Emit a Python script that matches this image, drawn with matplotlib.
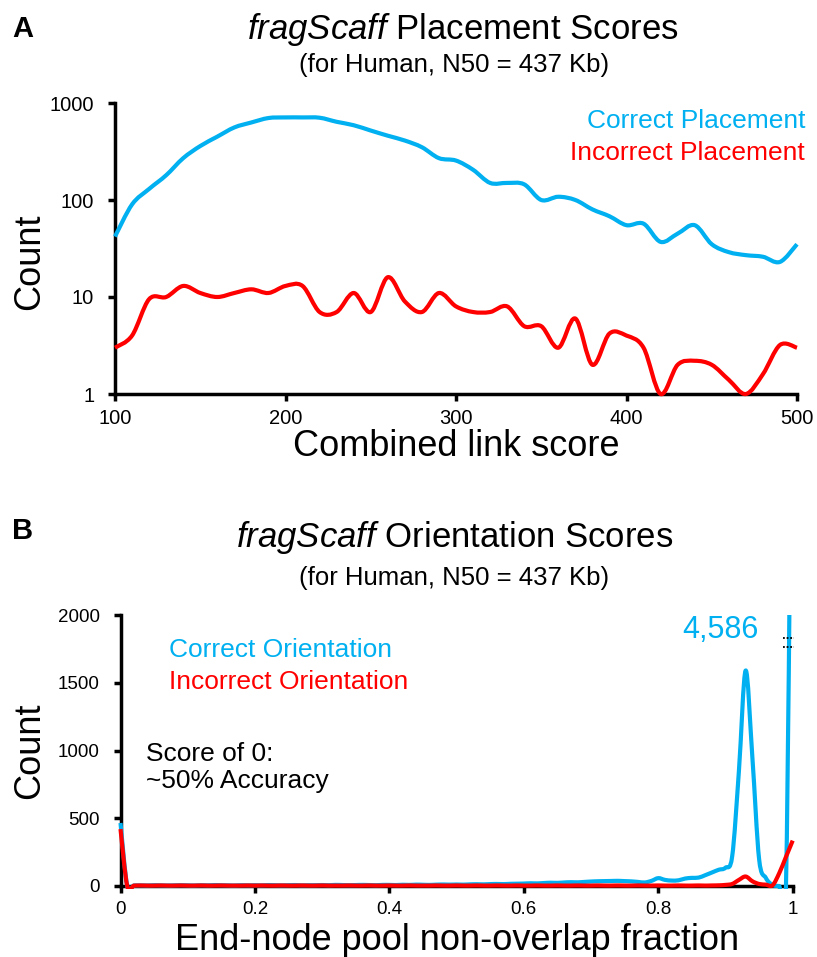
import numpy as np
import matplotlib
matplotlib.use('Agg')
import matplotlib.pyplot as plt
from matplotlib.patches import PathPatch, Rectangle
from matplotlib.path import Path

plt.rcParams['font.family'] = ['Liberation Sans', 'DejaVu Sans']
plt.rcParams['mathtext.fontset'] = 'custom'
plt.rcParams['mathtext.it'] = 'Liberation Sans:italic'
plt.rcParams['mathtext.rm'] = 'Liberation Sans'

BLUE = '#00B0F0'
RED = '#FF0000'

# Panel A: counts per combined link score bin (log scale)
score_a = [100, 110, 120, 130, 140, 150, 160, 170, 180, 190, 200,
           210, 220, 230, 240, 250, 260, 270, 280, 290, 300,
           310, 320, 330, 340, 350, 360, 370, 380, 390, 400,
           410, 420, 430, 440, 450, 460, 470, 480, 490, 500]
correct_a = [42, 90, 130, 180, 270, 360, 450, 560, 630, 700, 710,
             710, 705, 640, 590, 520, 460, 410, 350, 270, 255,
             205, 150, 150, 145, 100, 108, 100, 80, 68, 55,
             57, 37, 45, 55, 35, 29, 27, 26, 23, 35]
incorrect_a = [3.0, 4.0, 9.5, 10, 13, 11, 10, 11, 12, 11, 13,
               13, 7, 7, 11, 7, 16, 9, 7, 11, 8,
               7, 7, 8, 5, 5, 3, 6, 2, 4.2, 4,
               3, 1, 2, 2.2, 2, 1.4, 1.0, 1.6, 3.2, 3.0]

# Panel B: counts per end-node pool non-overlap fraction bin (0.00 .. 1.00)
frac_b = np.round(np.arange(101) * 0.01, 2)
correct_b = [465, 2, 4, 5, 4, 6, 5, 4, 5, 6,
             5, 4, 6, 5, 7, 6, 5, 4, 6, 5,
             6, 5, 7, 6, 5, 6, 7, 5, 6, 6,
             7, 6, 8, 7, 6, 7, 8, 7, 6, 8,
             8, 7, 9, 8, 10, 9, 8, 10, 11, 10,
             11, 10, 12, 13, 12, 14, 15, 14, 16, 17,
             18, 20, 19, 22, 24, 23, 26, 28, 27, 30,
             33, 35, 36, 37, 38, 36, 34, 30, 26, 38,
             58, 45, 40, 42, 55, 60, 62, 80, 100, 120,
             135, 220, 850, 1590, 950, 200, 60, 8, 0, 0,
             4586]
incorrect_b = [420, 0, 3, 4, 3, 3, 4, 3, 3, 4,
               3, 3, 4, 3, 3, 4, 3, 3, 3, 4,
               3, 4, 3, 3, 4, 3, 3, 4, 3, 3,
               4, 3, 3, 3, 4, 3, 3, 4, 3, 3,
               4, 3, 3, 4, 3, 3, 3, 4, 3, 3,
               4, 3, 3, 4, 3, 3, 4, 3, 3, 4,
               3, 3, 4, 3, 3, 4, 3, 3, 4, 3,
               3, 4, 3, 3, 4, 3, 3, 4, 3, 3,
               4, 3, 3, 4, 3, 3, 4, 3, 4, 5,
               8, 15, 45, 70, 35, 15, 10, 5, 95, 215,
               335]

W, H = 817, 957


def fx(x):
    return x / W


def fy(y):
    return 1 - y / H


def smooth_line(ax, x, y, color, logy=False, clip=None):
    # smoothed line (Bezier through every point, like a spreadsheet "smoothed line")
    x = np.asarray(x, float)
    y = np.asarray(y, float)
    yt = np.log10(y) if logy else y
    n = len(x)
    verts = [(x[0], y[0])]
    codes = [Path.MOVETO]
    for i in range(n - 1):
        i0 = max(i - 1, 0)
        i3 = min(i + 2, n - 1)
        c1x = x[i] + (x[i + 1] - x[i0]) / 6
        c1y = yt[i] + (yt[i + 1] - yt[i0]) / 6
        c2x = x[i + 1] - (x[i3] - x[i]) / 6
        c2y = yt[i + 1] - (yt[i3] - yt[i]) / 6
        if logy:
            c1y, c2y = 10 ** c1y, 10 ** c2y
        verts += [(c1x, c1y), (c2x, c2y), (x[i + 1], y[i + 1])]
        codes += [Path.CURVE4] * 3
    patch = PathPatch(Path(verts, codes), facecolor='none', edgecolor=color,
                      lw=3, joinstyle='round', capstyle='butt', zorder=3)
    ax.add_patch(patch)
    if clip is None:
        patch.set_clip_on(False)
    else:
        patch.set_clip_path(clip)
    return patch


fig = plt.figure(figsize=(W / 100, H / 100), dpi=100)

# ---------------- Panel A ----------------
axA = fig.add_axes([fx(115), fy(394), 682 / W, 291 / H])
smooth_line(axA, score_a, correct_a, BLUE, logy=True)
smooth_line(axA, score_a, incorrect_a, RED, logy=True)
axA.set_yscale('log')
axA.set_xlim(100, 500)
axA.set_ylim(1, 1000)
axA.set_yticks([1, 10, 100, 1000])
axA.set_yticklabels(['1', '10', '100', '1000'])
axA.yaxis.set_minor_locator(matplotlib.ticker.NullLocator())
axA.set_xticks([100, 200, 300, 400, 500])
axA.set_xlabel('Combined link score', fontsize=26)
axA.set_ylabel('Count', fontsize=26)
axA.text(1.012, 0.915, 'Correct Placement', color=BLUE, fontsize=19,
         ha='right', va='baseline', transform=axA.transAxes)
axA.text(1.012, 0.804, 'Incorrect Placement', color=RED, fontsize=19,
         ha='right', va='baseline', transform=axA.transAxes)

# ---------------- Panel B ----------------
axB = fig.add_axes([fx(120.5), fy(886), 672.2 / W, 271 / H])
clip = Rectangle((-0.02, -0.012), 1.04, 1.012, transform=axB.transAxes,
                 visible=False)
axB.add_patch(clip)
smooth_line(axB, frac_b, correct_b, BLUE, clip=clip)
smooth_line(axB, frac_b, incorrect_b, RED, clip=clip)
axB.set_xlim(0, 1)
axB.set_ylim(0, 2000)
axB.set_yticks([0, 500, 1000, 1500, 2000])
axB.set_xticks([0, 0.2, 0.4, 0.6, 0.8, 1.0])
axB.set_xticklabels(['0', '0.2', '0.4', '0.6', '0.8', '1'])
axB.set_xlabel('End-node pool non-overlap fraction', fontsize=26)
axB.set_ylabel('Count', fontsize=26)
axB.text(0.072, 0.844, 'Correct Orientation', color=BLUE, fontsize=19,
         va='baseline', transform=axB.transAxes)
axB.text(0.072, 0.726, 'Incorrect Orientation', color=RED, fontsize=19,
         va='baseline', transform=axB.transAxes)
axB.text(0.038, 0.3605, 'Score of 0:\n~50% Accuracy', color='black', fontsize=19,
         va='baseline', linespacing=1.2, transform=axB.transAxes)
axB.text(0.892, 0.915, '4,586', color=BLUE, fontsize=22, ha='center',
         va='baseline', transform=axB.transAxes)

# axis break marks on the clipped spike
for yb in (0.882, 0.915):
    axB.plot([0.9856, 1.0016], [yb, yb], transform=axB.transAxes, color='black',
             lw=1.3, ls=(0, (1.0, 1.0)), zorder=5, clip_on=False)

for ax, lsize in ((axA, 14.5), (axB, 13.5)):
    for side in ('top', 'right'):
        ax.spines[side].set_visible(False)
    for side in ('left', 'bottom'):
        ax.spines[side].set_linewidth(2.5)
    ax.tick_params(axis='both', which='major', labelsize=lsize, width=2.5,
                   length=5, direction='out')
    ax.tick_params(axis='y', pad=10)
    ax.tick_params(axis='x', pad=6)
    ax.xaxis.label.set_va('baseline')

axA.yaxis.set_label_coords(-0.099, 0.455)
axB.yaxis.set_label_coords(-0.1086, 0.5)
axA.xaxis.set_label_coords(0.5, (394 - 456) / 291)
axB.xaxis.set_label_coords(0.5, (886 - 950) / 271)

# titles and panel letters
fig.text(fx(463), fy(39), r'$\it{fragScaff}$ Placement Scores', fontsize=25,
         ha='center', va='baseline')
fig.text(fx(454), fy(72), '(for Human, N50 = 437 Kb)', fontsize=18.5,
         ha='center', va='baseline')
fig.text(fx(455), fy(547), r'$\it{fragScaff}$ Orientation Scores', fontsize=25,
         ha='center', va='baseline')
fig.text(fx(454), fy(585), '(for Human, N50 = 437 Kb)', fontsize=18.5,
         ha='center', va='baseline')
fig.text(fx(12), fy(37), 'A', fontsize=21, fontweight='bold', va='baseline')
fig.text(fx(12), fy(539), 'B', fontsize=21, fontweight='bold', va='baseline')

fig.savefig('out.png', dpi=100)
